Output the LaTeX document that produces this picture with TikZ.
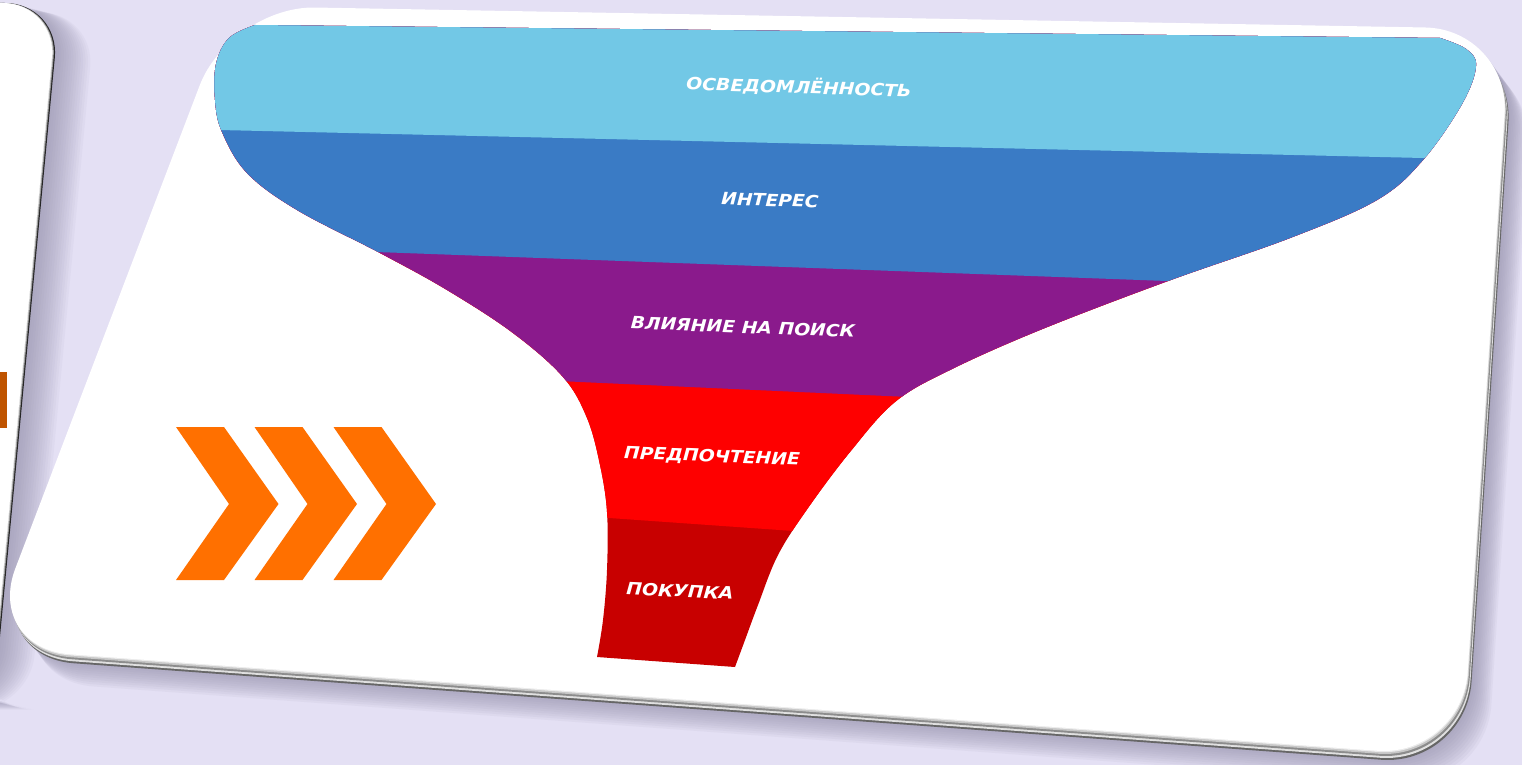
\documentclass[tikz,border=0pt]{standalone}
\usepackage{fontspec}
\newfontfamily\lblfont{DejaVu Sans}
\definecolor{bgc}{HTML}{E4E0F4}
\definecolor{shadowc}{HTML}{8E8AA6}
\definecolor{lbluec}{HTML}{72C8E6}
\definecolor{bluec}{HTML}{3A7BC5}
\definecolor{purplec}{HTML}{8A1A8C}
\definecolor{redc}{HTML}{FE0000}
\definecolor{dredc}{HTML}{C80000}
\definecolor{orangec}{HTML}{FF7000}
\newcommand{\cardshape}[1]{\fill[rounded corners=85,#1] (230,6) -- (1510,29) -- (1462,757) -- (-15,648) -- cycle;}
\newcommand{\leftshape}[1]{\fill[rounded corners=55,#1] (-60,3) -- (57,3) -- (-9,700) -- (-60,700) -- cycle;}
\tikzset{
  lbl/.style={text=white, font=\lblfont\bfseries\itshape\fontsize{18.8}{18.8}\selectfont, yscale=0.9, inner sep=0pt},
  chev/.style={fill=orangec}
}
\begin{document}
\begin{tikzpicture}[x=1pt,y=-1pt]
\useasboundingbox (0,0) rectangle (1522,765);
\fill[bgc] (0,0) rectangle (1522,765);
% left card
\foreach \i in {1,...,16} {\leftshape{shadowc, opacity=0.06, shift={(\i*2.4,\i*0.6)}}}
\leftshape{black!85, shift={(3,0)}}
\leftshape{black!40, shift={(1.8,0)}}
\leftshape{black!12, shift={(0.8,0)}}
\leftshape{white}
\begin{scope}
\clip[rounded corners=55] (-60,3) -- (57,3) -- (-9,700) -- (-60,700) -- cycle;
\fill[orangec!75!black] (0,372) -- (7,372) -- (7,428) -- (0,428) -- cycle;
\end{scope}
% main card
\foreach \i in {1,...,14} {\cardshape{shadowc, opacity=0.08, shift={(\i*1.7,\i*2.3)}}}
\cardshape{black!60, shift={(4,9)}}
\cardshape{black!12, shift={(3,7)}}
\cardshape{black!45, shift={(2.2,5)}}
\cardshape{black!22, shift={(1.2,3)}}
\cardshape{black!8, shift={(0.5,1.2)}}
\cardshape{white}
% funnel
\begin{scope}
\clip (255,25) -- (1440,38) -- plot[smooth,tension=0.6] coordinates {(1440,38) (1466,49) (1476,66) (1462,104) (1423,160) (1377,200) (1290,238) (1168,281) (1040,330) (950,370) (895,402) (850,452) (808,508) (778,555) (758,605) (745,640) (735,667)} -- (597,657) -- plot[smooth,tension=0.6] coordinates {(597,657) (603,620) (607,570) (607,512) (600,465) (587,418) (563,377) (513,333) (447,290) (380,253) (297,210) (247,173) (222,132) (215,100) (216,64) (229,38) (255,25)} -- cycle;
\fill[dredc] (0,0) rectangle (1522,765);
\fill[redc] (0,0) -- (1522,0) -- (1522,582.4) -- (0,475) -- cycle;
\fill[purplec] (0,0) -- (1522,0) -- (1522,425) -- (0,355.5) -- cycle;
\fill[bluec] (0,0) -- (1522,0) -- (1522,294) -- (0,238.2) -- cycle;
\fill[lbluec] (0,0) -- (1522,0) -- (1522,160.3) -- (0,124.9) -- cycle;
\end{scope}
% labels
\node[lbl, rotate=-2] (t1) at (799,87) {ОСВЕДОМЛЁННОСТЬ};
\node[lbl, rotate=-2] (t2) at (770,200) {ИНТЕРЕС};
\node[lbl, rotate=-2.5] (t3) at (743,327) {ВЛИЯНИЕ НА ПОИСК};
\node[lbl, rotate=-2.5] (t4) at (712,457) {ПРЕДПОЧТЕНИЕ};
\node[lbl, rotate=-3] (t5) at (680,591) {ПОКУПКА};
% chevrons
\foreach \x in {176,254.5,333.5} {\fill[chev] (\x,427) -- ++(48,0) -- ++(54.5,77) -- ++(-54.5,76) -- ++(-48,0) -- ++(53,-76) -- cycle;}
\end{tikzpicture}
\end{document}
